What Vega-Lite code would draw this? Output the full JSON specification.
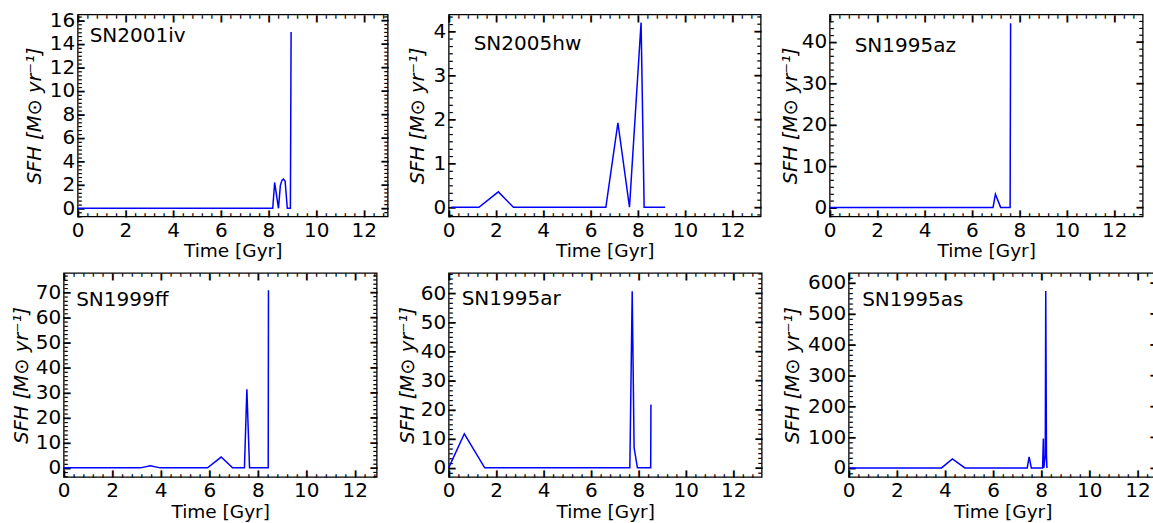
{
  "$schema": "https://vega.github.io/schema/vega-lite/v6.json",
  "background": "white",
  "padding": {"left": 8.5, "top": 9.5, "right": 0, "bottom": 0},
  "center": true,
  "spacing": 9.4,
  "datasets": {
    "sfh": [
      {"sn": "SN2001iv", "t": 0, "v": 0},
      {"sn": "SN2001iv", "t": 8.18, "v": 0},
      {"sn": "SN2001iv", "t": 8.26, "v": 2.2},
      {"sn": "SN2001iv", "t": 8.42, "v": 0},
      {"sn": "SN2001iv", "t": 8.5, "v": 1.95},
      {"sn": "SN2001iv", "t": 8.57, "v": 2.4},
      {"sn": "SN2001iv", "t": 8.63, "v": 2.49},
      {"sn": "SN2001iv", "t": 8.7, "v": 2.3},
      {"sn": "SN2001iv", "t": 8.79, "v": 0},
      {"sn": "SN2001iv", "t": 8.92, "v": 0},
      {"sn": "SN2001iv", "t": 8.95, "v": 15.0},

      {"sn": "SN2005hw", "t": 0.11, "v": 0},
      {"sn": "SN2005hw", "t": 1.28, "v": 0},
      {"sn": "SN2005hw", "t": 2.1, "v": 0.35},
      {"sn": "SN2005hw", "t": 2.74, "v": 0},
      {"sn": "SN2005hw", "t": 6.65, "v": 0},
      {"sn": "SN2005hw", "t": 7.16, "v": 1.92},
      {"sn": "SN2005hw", "t": 7.65, "v": 0},
      {"sn": "SN2005hw", "t": 8.14, "v": 4.2},
      {"sn": "SN2005hw", "t": 8.27, "v": 0},
      {"sn": "SN2005hw", "t": 9.16, "v": 0},

      {"sn": "SN1995az", "t": 0, "v": 0},
      {"sn": "SN1995az", "t": 6.89, "v": 0},
      {"sn": "SN1995az", "t": 6.99, "v": 3.2},
      {"sn": "SN1995az", "t": 7.21, "v": 0},
      {"sn": "SN1995az", "t": 7.61, "v": 0},
      {"sn": "SN1995az", "t": 7.63, "v": 44.5},

      {"sn": "SN1999ff", "t": 0, "v": 0},
      {"sn": "SN1999ff", "t": 3.16, "v": 0},
      {"sn": "SN1999ff", "t": 3.57, "v": 0.8},
      {"sn": "SN1999ff", "t": 3.98, "v": 0},
      {"sn": "SN1999ff", "t": 5.93, "v": 0},
      {"sn": "SN1999ff", "t": 6.49, "v": 4.3},
      {"sn": "SN1999ff", "t": 6.96, "v": 0},
      {"sn": "SN1999ff", "t": 7.45, "v": 0},
      {"sn": "SN1999ff", "t": 7.55, "v": 31.3},
      {"sn": "SN1999ff", "t": 7.66, "v": 0},
      {"sn": "SN1999ff", "t": 8.43, "v": 0},
      {"sn": "SN1999ff", "t": 8.44, "v": 70.8},

      {"sn": "SN1995ar", "t": 0, "v": 0},
      {"sn": "SN1995ar", "t": 0.66, "v": 11.7},
      {"sn": "SN1995ar", "t": 1.52, "v": 0},
      {"sn": "SN1995ar", "t": 7.64, "v": 0},
      {"sn": "SN1995ar", "t": 7.74, "v": 60.6},
      {"sn": "SN1995ar", "t": 7.82, "v": 6.9},
      {"sn": "SN1995ar", "t": 7.96, "v": 0},
      {"sn": "SN1995ar", "t": 8.52, "v": 0},
      {"sn": "SN1995ar", "t": 8.53, "v": 21.7},

      {"sn": "SN1995as", "t": 0, "v": 0},
      {"sn": "SN1995as", "t": 3.86, "v": 0},
      {"sn": "SN1995as", "t": 4.31, "v": 29},
      {"sn": "SN1995as", "t": 4.83, "v": 0},
      {"sn": "SN1995as", "t": 7.42, "v": 0},
      {"sn": "SN1995as", "t": 7.5, "v": 36},
      {"sn": "SN1995as", "t": 7.59, "v": 0},
      {"sn": "SN1995as", "t": 8.06, "v": 0},
      {"sn": "SN1995as", "t": 8.09, "v": 95},
      {"sn": "SN1995as", "t": 8.11, "v": 0},
      {"sn": "SN1995as", "t": 8.17, "v": 40},
      {"sn": "SN1995as", "t": 8.19, "v": 573},
      {"sn": "SN1995as", "t": 8.22, "v": 40},
      {"sn": "SN1995as", "t": 8.24, "v": 0}
    ]
  },
  "config": {
    "view": {"stroke": "black", "strokeWidth": 1.3},
    "axis": {
      "domain": false,
      "ticks": false,
      "grid": false,
      "minExtent": 0,
      "labelFont": "DejaVu Sans",
      "labelFontSize": 20,
      "labelColor": "black",
      "labelFlush": false,
      "labelOverlap": false,
      "titleFont": "DejaVu Sans",
      "titleFontWeight": "normal",
      "titleColor": "black"
    },
    "axisLeft": {"labelPadding": 3, "titleFontSize": 19.5, "titleFontStyle": "italic"},
    "axisBottom": {"labelPadding": 4, "titlePadding": 1.1, "titleFontSize": 18.5},
    "title": {
      "font": "DejaVu Sans",
      "fontSize": 20,
      "fontWeight": "normal",
      "color": "black",
      "anchor": "start",
      "frame": "group",
      "baseline": "alphabetic"
    },
    "line": {"color": "#0000ff", "strokeWidth": 1.5}
  },
  "vconcat": [
    {
      "spacing": 17,
      "hconcat": [
        {
          "width": 310, "height": 202,
          "title": {"text": "SN2001iv", "offset": -35.5, "dx": 12},
          "data": {"name": "sfh"},
          "transform": [{"filter": "datum.sn === 'SN2001iv'"}],
          "resolve": {"axis": {"x": "independent", "y": "independent"}},
          "layer": [
            {"mark": "line", "encoding": {
              "x": {"field": "t", "type": "quantitative", "scale": {"domain": [0, 13.0], "nice": false, "zero": false},
                    "axis": {"orient": "bottom", "title": "Time [Gyr]", "values": [0, 2, 4, 6, 8, 10, 12]}},
              "y": {"field": "v", "type": "quantitative", "scale": {"domain": [-0.7, 16.5], "nice": false, "zero": false},
                    "axis": {"orient": "left", "title": "SFH [M⊙ yr⁻¹]", "values": [0, 2, 4, 6, 8, 10, 12, 14, 16], "minExtent": 68.5, "titlePadding": -35}}}},
            {"mark": {"type": "line", "strokeOpacity": 0}, "encoding": {
              "x": {"field": "t", "type": "quantitative", "axis": {"orient": "bottom", "title": null, "labelExpr": "'▍'", "labelFontSize": 6, "labelPadding": 0, "labelBaseline": "bottom", "labelAlign": "left", "labelOffset": -0.7, "values": [0, 2, 4, 6, 8, 10, 12]}},
              "y": {"field": "v", "type": "quantitative", "axis": {"orient": "left", "title": null, "labelExpr": "'▍'", "labelFontSize": 6, "labelPadding": 0, "labelBaseline": "bottom", "labelAlign": "left", "labelAngle": 90, "labelOffset": -0.68, "values": [0, 2, 4, 6, 8, 10, 12, 14, 16]}}}},
            {"mark": {"type": "line", "strokeOpacity": 0}, "encoding": {
              "x": {"field": "t", "type": "quantitative", "axis": {"orient": "bottom", "title": null, "labelExpr": "'▌'", "labelFontSize": 3, "labelPadding": 0, "labelBaseline": "bottom", "labelAlign": "left", "labelOffset": -0.45, "values": [0.4, 0.8, 1.2, 1.6, 2.4, 2.8, 3.2, 3.6, 4.4, 4.8, 5.2, 5.6, 6.4, 6.8, 7.2, 7.6, 8.4, 8.8, 9.2, 9.6, 10.4, 10.8, 11.2, 11.6, 12.4, 12.8]}},
              "y": {"field": "v", "type": "quantitative", "axis": {"orient": "left", "title": null, "labelExpr": "'▌'", "labelFontSize": 3, "labelPadding": 0, "labelBaseline": "bottom", "labelAlign": "left", "labelAngle": 90, "labelOffset": -0.45, "values": [-0.667, -0.333, 0.333, 0.667, 1, 1.333, 1.667, 2.333, 2.667, 3, 3.333, 3.667, 4.333, 4.667, 5, 5.333, 5.667, 6.333, 6.667, 7, 7.333, 7.667, 8.333, 8.667, 9, 9.333, 9.667, 10.333, 10.667, 11, 11.333, 11.667, 12.333, 12.667, 13, 13.333, 13.667, 14.333, 14.667, 15, 15.333, 15.667, 16.333]}}}},
            {"mark": {"type": "line", "strokeOpacity": 0}, "encoding": {
              "x": {"field": "t", "type": "quantitative", "axis": {"orient": "top", "title": null, "labelExpr": "'▍'", "labelFontSize": 6, "labelPadding": -0.57, "labelBaseline": "top", "labelAlign": "left", "labelOffset": -0.7, "values": [0, 2, 4, 6, 8, 10, 12]}},
              "y": {"field": "v", "type": "quantitative", "axis": {"orient": "right", "title": null, "labelExpr": "'▍'", "labelFontSize": 6, "labelPadding": -0.4, "labelBaseline": "bottom", "labelAlign": "left", "labelAngle": -90, "labelOffset": 0.68, "values": [0, 2, 4, 6, 8, 10, 12, 14, 16]}}}},
            {"mark": {"type": "line", "strokeOpacity": 0}, "encoding": {
              "x": {"field": "t", "type": "quantitative", "axis": {"orient": "top", "title": null, "labelExpr": "'▌'", "labelFontSize": 3, "labelPadding": -0.78, "labelBaseline": "top", "labelAlign": "left", "labelOffset": -0.45, "values": [0.4, 0.8, 1.2, 1.6, 2.4, 2.8, 3.2, 3.6, 4.4, 4.8, 5.2, 5.6, 6.4, 6.8, 7.2, 7.6, 8.4, 8.8, 9.2, 9.6, 10.4, 10.8, 11.2, 11.6, 12.4, 12.8]}},
              "y": {"field": "v", "type": "quantitative", "axis": {"orient": "right", "title": null, "labelExpr": "'▌'", "labelFontSize": 3, "labelPadding": 0, "labelBaseline": "bottom", "labelAlign": "left", "labelAngle": -90, "labelOffset": 0.45, "values": [-0.667, -0.333, 0.333, 0.667, 1, 1.333, 1.667, 2.333, 2.667, 3, 3.333, 3.667, 4.333, 4.667, 5, 5.333, 5.667, 6.333, 6.667, 7, 7.333, 7.667, 8.333, 8.667, 9, 9.333, 9.667, 10.333, 10.667, 11, 11.333, 11.667, 12.333, 12.667, 13, 13.333, 13.667, 14.333, 14.667, 15, 15.333, 15.667, 16.333]}}}}
          ]
        },
        {
          "width": 312, "height": 202,
          "title": {"text": "SN2005hw", "offset": -39.5, "dx": 25},
          "data": {"name": "sfh"},
          "transform": [{"filter": "datum.sn === 'SN2005hw'"}],
          "resolve": {"axis": {"x": "independent", "y": "independent"}},
          "layer": [
            {"mark": "line", "encoding": {
              "x": {"field": "t", "type": "quantitative", "scale": {"domain": [0, 13.2], "nice": false, "zero": false},
                    "axis": {"orient": "bottom", "title": "Time [Gyr]", "values": [0, 2, 4, 6, 8, 10, 12]}},
              "y": {"field": "v", "type": "quantitative", "scale": {"domain": [-0.21, 4.38], "nice": false, "zero": false},
                    "axis": {"orient": "left", "title": "SFH [M⊙ yr⁻¹]", "values": [0, 1, 2, 3, 4], "titlePadding": 5.8}}}},
            {"mark": {"type": "line", "strokeOpacity": 0}, "encoding": {
              "x": {"field": "t", "type": "quantitative", "axis": {"orient": "bottom", "title": null, "labelExpr": "'▍'", "labelFontSize": 6, "labelPadding": 0, "labelBaseline": "bottom", "labelAlign": "left", "labelOffset": -0.7, "values": [0, 2, 4, 6, 8, 10, 12]}},
              "y": {"field": "v", "type": "quantitative", "axis": {"orient": "left", "title": null, "labelExpr": "'▍'", "labelFontSize": 6, "labelPadding": 0, "labelBaseline": "bottom", "labelAlign": "left", "labelAngle": 90, "labelOffset": -0.68, "values": [0, 1, 2, 3, 4]}}}},
            {"mark": {"type": "line", "strokeOpacity": 0}, "encoding": {
              "x": {"field": "t", "type": "quantitative", "axis": {"orient": "bottom", "title": null, "labelExpr": "'▌'", "labelFontSize": 3, "labelPadding": 0, "labelBaseline": "bottom", "labelAlign": "left", "labelOffset": -0.45, "values": [0.4, 0.8, 1.2, 1.6, 2.4, 2.8, 3.2, 3.6, 4.4, 4.8, 5.2, 5.6, 6.4, 6.8, 7.2, 7.6, 8.4, 8.8, 9.2, 9.6, 10.4, 10.8, 11.2, 11.6, 12.4, 12.8]}},
              "y": {"field": "v", "type": "quantitative", "axis": {"orient": "left", "title": null, "labelExpr": "'▌'", "labelFontSize": 3, "labelPadding": 0, "labelBaseline": "bottom", "labelAlign": "left", "labelAngle": 90, "labelOffset": -0.45, "values": [-0.167, 0.167, 0.333, 0.5, 0.667, 0.833, 1.167, 1.333, 1.5, 1.667, 1.833, 2.167, 2.333, 2.5, 2.667, 2.833, 3.167, 3.333, 3.5, 3.667, 3.833, 4.167, 4.333]}}}},
            {"mark": {"type": "line", "strokeOpacity": 0}, "encoding": {
              "x": {"field": "t", "type": "quantitative", "axis": {"orient": "top", "title": null, "labelExpr": "'▍'", "labelFontSize": 6, "labelPadding": -0.57, "labelBaseline": "top", "labelAlign": "left", "labelOffset": -0.7, "values": [0, 2, 4, 6, 8, 10, 12]}},
              "y": {"field": "v", "type": "quantitative", "axis": {"orient": "right", "title": null, "labelExpr": "'▍'", "labelFontSize": 6, "labelPadding": -0.4, "labelBaseline": "bottom", "labelAlign": "left", "labelAngle": -90, "labelOffset": 0.68, "values": [0, 1, 2, 3, 4]}}}},
            {"mark": {"type": "line", "strokeOpacity": 0}, "encoding": {
              "x": {"field": "t", "type": "quantitative", "axis": {"orient": "top", "title": null, "labelExpr": "'▌'", "labelFontSize": 3, "labelPadding": -0.78, "labelBaseline": "top", "labelAlign": "left", "labelOffset": -0.45, "values": [0.4, 0.8, 1.2, 1.6, 2.4, 2.8, 3.2, 3.6, 4.4, 4.8, 5.2, 5.6, 6.4, 6.8, 7.2, 7.6, 8.4, 8.8, 9.2, 9.6, 10.4, 10.8, 11.2, 11.6, 12.4, 12.8]}},
              "y": {"field": "v", "type": "quantitative", "axis": {"orient": "right", "title": null, "labelExpr": "'▌'", "labelFontSize": 3, "labelPadding": 0, "labelBaseline": "bottom", "labelAlign": "left", "labelAngle": -90, "labelOffset": 0.45, "values": [-0.167, 0.167, 0.333, 0.5, 0.667, 0.833, 1.167, 1.333, 1.5, 1.667, 1.833, 2.167, 2.333, 2.5, 2.667, 2.833, 3.167, 3.333, 3.5, 3.667, 3.833, 4.167, 4.333]}}}}
          ]
        },
        {
          "width": 313, "height": 202,
          "title": {"text": "SN1995az", "offset": -41.5, "dx": 25},
          "data": {"name": "sfh"},
          "transform": [{"filter": "datum.sn === 'SN1995az'"}],
          "resolve": {"axis": {"x": "independent", "y": "independent"}},
          "layer": [
            {"mark": "line", "encoding": {
              "x": {"field": "t", "type": "quantitative", "scale": {"domain": [0, 13.2], "nice": false, "zero": false},
                    "axis": {"orient": "bottom", "title": "Time [Gyr]", "values": [0, 2, 4, 6, 8, 10, 12]}},
              "y": {"field": "v", "type": "quantitative", "scale": {"domain": [-2.2, 46.6], "nice": false, "zero": false},
                    "axis": {"orient": "left", "title": "SFH [M⊙ yr⁻¹]", "values": [0, 10, 20, 30, 40], "titlePadding": 1.1}}}},
            {"mark": {"type": "line", "strokeOpacity": 0}, "encoding": {
              "x": {"field": "t", "type": "quantitative", "axis": {"orient": "bottom", "title": null, "labelExpr": "'▍'", "labelFontSize": 6, "labelPadding": 0, "labelBaseline": "bottom", "labelAlign": "left", "labelOffset": -0.7, "values": [0, 2, 4, 6, 8, 10, 12]}},
              "y": {"field": "v", "type": "quantitative", "axis": {"orient": "left", "title": null, "labelExpr": "'▍'", "labelFontSize": 6, "labelPadding": 0, "labelBaseline": "bottom", "labelAlign": "left", "labelAngle": 90, "labelOffset": -0.68, "values": [0, 10, 20, 30, 40]}}}},
            {"mark": {"type": "line", "strokeOpacity": 0}, "encoding": {
              "x": {"field": "t", "type": "quantitative", "axis": {"orient": "bottom", "title": null, "labelExpr": "'▌'", "labelFontSize": 3, "labelPadding": 0, "labelBaseline": "bottom", "labelAlign": "left", "labelOffset": -0.45, "values": [0.4, 0.8, 1.2, 1.6, 2.4, 2.8, 3.2, 3.6, 4.4, 4.8, 5.2, 5.6, 6.4, 6.8, 7.2, 7.6, 8.4, 8.8, 9.2, 9.6, 10.4, 10.8, 11.2, 11.6, 12.4, 12.8]}},
              "y": {"field": "v", "type": "quantitative", "axis": {"orient": "left", "title": null, "labelExpr": "'▌'", "labelFontSize": 3, "labelPadding": 0, "labelBaseline": "bottom", "labelAlign": "left", "labelAngle": 90, "labelOffset": -0.45, "values": [-1.667, 1.667, 3.333, 5, 6.667, 8.333, 11.667, 13.333, 15, 16.667, 18.333, 21.667, 23.333, 25, 26.667, 28.333, 31.667, 33.333, 35, 36.667, 38.333, 41.667, 43.333, 45]}}}},
            {"mark": {"type": "line", "strokeOpacity": 0}, "encoding": {
              "x": {"field": "t", "type": "quantitative", "axis": {"orient": "top", "title": null, "labelExpr": "'▍'", "labelFontSize": 6, "labelPadding": -0.57, "labelBaseline": "top", "labelAlign": "left", "labelOffset": -0.7, "values": [0, 2, 4, 6, 8, 10, 12]}},
              "y": {"field": "v", "type": "quantitative", "axis": {"orient": "right", "title": null, "labelExpr": "'▍'", "labelFontSize": 6, "labelPadding": -0.4, "labelBaseline": "bottom", "labelAlign": "left", "labelAngle": -90, "labelOffset": 0.68, "values": [0, 10, 20, 30, 40]}}}},
            {"mark": {"type": "line", "strokeOpacity": 0}, "encoding": {
              "x": {"field": "t", "type": "quantitative", "axis": {"orient": "top", "title": null, "labelExpr": "'▌'", "labelFontSize": 3, "labelPadding": -0.78, "labelBaseline": "top", "labelAlign": "left", "labelOffset": -0.45, "values": [0.4, 0.8, 1.2, 1.6, 2.4, 2.8, 3.2, 3.6, 4.4, 4.8, 5.2, 5.6, 6.4, 6.8, 7.2, 7.6, 8.4, 8.8, 9.2, 9.6, 10.4, 10.8, 11.2, 11.6, 12.4, 12.8]}},
              "y": {"field": "v", "type": "quantitative", "axis": {"orient": "right", "title": null, "labelExpr": "'▌'", "labelFontSize": 3, "labelPadding": 0, "labelBaseline": "bottom", "labelAlign": "left", "labelAngle": -90, "labelOffset": 0.45, "values": [-1.667, 1.667, 3.333, 5, 6.667, 8.333, 11.667, 13.333, 15, 16.667, 18.333, 21.667, 23.333, 25, 26.667, 28.333, 31.667, 33.333, 35, 36.667, 38.333, 41.667, 43.333, 45]}}}}
          ]
        }
      ]
    },
    {
      "spacing": 18,
      "hconcat": [
        {
          "width": 313, "height": 204,
          "title": {"text": "SN1999ff", "offset": -37, "dx": 12.5},
          "data": {"name": "sfh"},
          "transform": [{"filter": "datum.sn === 'SN1999ff'"}],
          "resolve": {"axis": {"x": "independent", "y": "independent"}},
          "layer": [
            {"mark": "line", "encoding": {
              "x": {"field": "t", "type": "quantitative", "scale": {"domain": [0, 12.9], "nice": false, "zero": false},
                    "axis": {"orient": "bottom", "title": "Time [Gyr]", "values": [0, 2, 4, 6, 8, 10, 12]}},
              "y": {"field": "v", "type": "quantitative", "scale": {"domain": [-3.6, 77.7], "nice": false, "zero": false},
                    "axis": {"orient": "left", "title": "SFH [M⊙ yr⁻¹]", "values": [0, 10, 20, 30, 40, 50, 60, 70], "titlePadding": 4.1}}}},
            {"mark": {"type": "line", "strokeOpacity": 0}, "encoding": {
              "x": {"field": "t", "type": "quantitative", "axis": {"orient": "bottom", "title": null, "labelExpr": "'▍'", "labelFontSize": 6, "labelPadding": 0, "labelBaseline": "bottom", "labelAlign": "left", "labelOffset": -0.7, "values": [0, 2, 4, 6, 8, 10, 12]}},
              "y": {"field": "v", "type": "quantitative", "axis": {"orient": "left", "title": null, "labelExpr": "'▍'", "labelFontSize": 6, "labelPadding": 0, "labelBaseline": "bottom", "labelAlign": "left", "labelAngle": 90, "labelOffset": -0.68, "values": [0, 10, 20, 30, 40, 50, 60, 70]}}}},
            {"mark": {"type": "line", "strokeOpacity": 0}, "encoding": {
              "x": {"field": "t", "type": "quantitative", "axis": {"orient": "bottom", "title": null, "labelExpr": "'▌'", "labelFontSize": 3, "labelPadding": 0, "labelBaseline": "bottom", "labelAlign": "left", "labelOffset": -0.45, "values": [0.4, 0.8, 1.2, 1.6, 2.4, 2.8, 3.2, 3.6, 4.4, 4.8, 5.2, 5.6, 6.4, 6.8, 7.2, 7.6, 8.4, 8.8, 9.2, 9.6, 10.4, 10.8, 11.2, 11.6, 12.4, 12.8]}},
              "y": {"field": "v", "type": "quantitative", "axis": {"orient": "left", "title": null, "labelExpr": "'▌'", "labelFontSize": 3, "labelPadding": 0, "labelBaseline": "bottom", "labelAlign": "left", "labelAngle": 90, "labelOffset": -0.45, "values": [-3.333, -1.667, 1.667, 3.333, 5, 6.667, 8.333, 11.667, 13.333, 15, 16.667, 18.333, 21.667, 23.333, 25, 26.667, 28.333, 31.667, 33.333, 35, 36.667, 38.333, 41.667, 43.333, 45, 46.667, 48.333, 51.667, 53.333, 55, 56.667, 58.333, 61.667, 63.333, 65, 66.667, 68.333, 71.667, 73.333, 75, 76.667]}}}},
            {"mark": {"type": "line", "strokeOpacity": 0}, "encoding": {
              "x": {"field": "t", "type": "quantitative", "axis": {"orient": "top", "title": null, "labelExpr": "'▍'", "labelFontSize": 6, "labelPadding": -0.57, "labelBaseline": "top", "labelAlign": "left", "labelOffset": -0.7, "values": [0, 2, 4, 6, 8, 10, 12]}},
              "y": {"field": "v", "type": "quantitative", "axis": {"orient": "right", "title": null, "labelExpr": "'▍'", "labelFontSize": 6, "labelPadding": -0.4, "labelBaseline": "bottom", "labelAlign": "left", "labelAngle": -90, "labelOffset": 0.68, "values": [0, 10, 20, 30, 40, 50, 60, 70]}}}},
            {"mark": {"type": "line", "strokeOpacity": 0}, "encoding": {
              "x": {"field": "t", "type": "quantitative", "axis": {"orient": "top", "title": null, "labelExpr": "'▌'", "labelFontSize": 3, "labelPadding": -0.78, "labelBaseline": "top", "labelAlign": "left", "labelOffset": -0.45, "values": [0.4, 0.8, 1.2, 1.6, 2.4, 2.8, 3.2, 3.6, 4.4, 4.8, 5.2, 5.6, 6.4, 6.8, 7.2, 7.6, 8.4, 8.8, 9.2, 9.6, 10.4, 10.8, 11.2, 11.6, 12.4, 12.8]}},
              "y": {"field": "v", "type": "quantitative", "axis": {"orient": "right", "title": null, "labelExpr": "'▌'", "labelFontSize": 3, "labelPadding": 0, "labelBaseline": "bottom", "labelAlign": "left", "labelAngle": -90, "labelOffset": 0.45, "values": [-3.333, -1.667, 1.667, 3.333, 5, 6.667, 8.333, 11.667, 13.333, 15, 16.667, 18.333, 21.667, 23.333, 25, 26.667, 28.333, 31.667, 33.333, 35, 36.667, 38.333, 41.667, 43.333, 45, 46.667, 48.333, 51.667, 53.333, 55, 56.667, 58.333, 61.667, 63.333, 65, 66.667, 68.333, 71.667, 73.333, 75, 76.667]}}}}
          ]
        },
        {
          "width": 313, "height": 204,
          "title": {"text": "SN1995ar", "offset": -37.5, "dx": 13},
          "data": {"name": "sfh"},
          "transform": [{"filter": "datum.sn === 'SN1995ar'"}],
          "resolve": {"axis": {"x": "independent", "y": "independent"}},
          "layer": [
            {"mark": "line", "encoding": {
              "x": {"field": "t", "type": "quantitative", "scale": {"domain": [0, 13.2], "nice": false, "zero": false},
                    "axis": {"orient": "bottom", "title": "Time [Gyr]", "values": [0, 2, 4, 6, 8, 10, 12]}},
              "y": {"field": "v", "type": "quantitative", "scale": {"domain": [-3.1, 66.9], "nice": false, "zero": false},
                    "axis": {"orient": "left", "title": "SFH [M⊙ yr⁻¹]", "values": [0, 10, 20, 30, 40, 50, 60], "titlePadding": 3.1}}}},
            {"mark": {"type": "line", "strokeOpacity": 0}, "encoding": {
              "x": {"field": "t", "type": "quantitative", "axis": {"orient": "bottom", "title": null, "labelExpr": "'▍'", "labelFontSize": 6, "labelPadding": 0, "labelBaseline": "bottom", "labelAlign": "left", "labelOffset": -0.7, "values": [0, 2, 4, 6, 8, 10, 12]}},
              "y": {"field": "v", "type": "quantitative", "axis": {"orient": "left", "title": null, "labelExpr": "'▍'", "labelFontSize": 6, "labelPadding": 0, "labelBaseline": "bottom", "labelAlign": "left", "labelAngle": 90, "labelOffset": -0.68, "values": [0, 10, 20, 30, 40, 50, 60]}}}},
            {"mark": {"type": "line", "strokeOpacity": 0}, "encoding": {
              "x": {"field": "t", "type": "quantitative", "axis": {"orient": "bottom", "title": null, "labelExpr": "'▌'", "labelFontSize": 3, "labelPadding": 0, "labelBaseline": "bottom", "labelAlign": "left", "labelOffset": -0.45, "values": [0.4, 0.8, 1.2, 1.6, 2.4, 2.8, 3.2, 3.6, 4.4, 4.8, 5.2, 5.6, 6.4, 6.8, 7.2, 7.6, 8.4, 8.8, 9.2, 9.6, 10.4, 10.8, 11.2, 11.6, 12.4, 12.8]}},
              "y": {"field": "v", "type": "quantitative", "axis": {"orient": "left", "title": null, "labelExpr": "'▌'", "labelFontSize": 3, "labelPadding": 0, "labelBaseline": "bottom", "labelAlign": "left", "labelAngle": 90, "labelOffset": -0.45, "values": [-1.667, 1.667, 3.333, 5, 6.667, 8.333, 11.667, 13.333, 15, 16.667, 18.333, 21.667, 23.333, 25, 26.667, 28.333, 31.667, 33.333, 35, 36.667, 38.333, 41.667, 43.333, 45, 46.667, 48.333, 51.667, 53.333, 55, 56.667, 58.333, 61.667, 63.333, 65, 66.667]}}}},
            {"mark": {"type": "line", "strokeOpacity": 0}, "encoding": {
              "x": {"field": "t", "type": "quantitative", "axis": {"orient": "top", "title": null, "labelExpr": "'▍'", "labelFontSize": 6, "labelPadding": -0.57, "labelBaseline": "top", "labelAlign": "left", "labelOffset": -0.7, "values": [0, 2, 4, 6, 8, 10, 12]}},
              "y": {"field": "v", "type": "quantitative", "axis": {"orient": "right", "title": null, "labelExpr": "'▍'", "labelFontSize": 6, "labelPadding": -0.4, "labelBaseline": "bottom", "labelAlign": "left", "labelAngle": -90, "labelOffset": 0.68, "values": [0, 10, 20, 30, 40, 50, 60]}}}},
            {"mark": {"type": "line", "strokeOpacity": 0}, "encoding": {
              "x": {"field": "t", "type": "quantitative", "axis": {"orient": "top", "title": null, "labelExpr": "'▌'", "labelFontSize": 3, "labelPadding": -0.78, "labelBaseline": "top", "labelAlign": "left", "labelOffset": -0.45, "values": [0.4, 0.8, 1.2, 1.6, 2.4, 2.8, 3.2, 3.6, 4.4, 4.8, 5.2, 5.6, 6.4, 6.8, 7.2, 7.6, 8.4, 8.8, 9.2, 9.6, 10.4, 10.8, 11.2, 11.6, 12.4, 12.8]}},
              "y": {"field": "v", "type": "quantitative", "axis": {"orient": "right", "title": null, "labelExpr": "'▌'", "labelFontSize": 3, "labelPadding": 0, "labelBaseline": "bottom", "labelAlign": "left", "labelAngle": -90, "labelOffset": 0.45, "values": [-1.667, 1.667, 3.333, 5, 6.667, 8.333, 11.667, 13.333, 15, 16.667, 18.333, 21.667, 23.333, 25, 26.667, 28.333, 31.667, 33.333, 35, 36.667, 38.333, 41.667, 43.333, 45, 46.667, 48.333, 51.667, 53.333, 55, 56.667, 58.333, 61.667, 63.333, 65, 66.667]}}}}
          ]
        },
        {
          "width": 308, "height": 204,
          "title": {"text": "SN1995as", "offset": -37, "dx": 13.5},
          "data": {"name": "sfh"},
          "transform": [{"filter": "datum.sn === 'SN1995as'"}],
          "resolve": {"axis": {"x": "independent", "y": "independent"}},
          "layer": [
            {"mark": "line", "encoding": {
              "x": {"field": "t", "type": "quantitative", "scale": {"domain": [0, 12.8], "nice": false, "zero": false},
                    "axis": {"orient": "bottom", "title": "Time [Gyr]", "values": [0, 2, 4, 6, 8, 10, 12]}},
              "y": {"field": "v", "type": "quantitative", "scale": {"domain": [-29, 632], "nice": false, "zero": false},
                    "axis": {"orient": "left", "title": "SFH [M⊙ yr⁻¹]", "values": [0, 100, 200, 300, 400, 500, 600], "titlePadding": 5.3}}}},
            {"mark": {"type": "line", "strokeOpacity": 0}, "encoding": {
              "x": {"field": "t", "type": "quantitative", "axis": {"orient": "bottom", "title": null, "labelExpr": "'▍'", "labelFontSize": 6, "labelPadding": 0, "labelBaseline": "bottom", "labelAlign": "left", "labelOffset": -0.7, "values": [0, 2, 4, 6, 8, 10, 12]}},
              "y": {"field": "v", "type": "quantitative", "axis": {"orient": "left", "title": null, "labelExpr": "'▍'", "labelFontSize": 6, "labelPadding": 0, "labelBaseline": "bottom", "labelAlign": "left", "labelAngle": 90, "labelOffset": -0.68, "values": [0, 100, 200, 300, 400, 500, 600]}}}},
            {"mark": {"type": "line", "strokeOpacity": 0}, "encoding": {
              "x": {"field": "t", "type": "quantitative", "axis": {"orient": "bottom", "title": null, "labelExpr": "'▌'", "labelFontSize": 3, "labelPadding": 0, "labelBaseline": "bottom", "labelAlign": "left", "labelOffset": -0.45, "values": [0.4, 0.8, 1.2, 1.6, 2.4, 2.8, 3.2, 3.6, 4.4, 4.8, 5.2, 5.6, 6.4, 6.8, 7.2, 7.6, 8.4, 8.8, 9.2, 9.6, 10.4, 10.8, 11.2, 11.6, 12.4]}},
              "y": {"field": "v", "type": "quantitative", "axis": {"orient": "left", "title": null, "labelExpr": "'▌'", "labelFontSize": 3, "labelPadding": 0, "labelBaseline": "bottom", "labelAlign": "left", "labelAngle": 90, "labelOffset": -0.45, "values": [-16.667, 16.667, 33.333, 50, 66.667, 83.333, 116.667, 133.333, 150, 166.667, 183.333, 216.667, 233.333, 250, 266.667, 283.333, 316.667, 333.333, 350, 366.667, 383.333, 416.667, 433.333, 450, 466.667, 483.333, 516.667, 533.333, 550, 566.667, 583.333, 616.667]}}}},
            {"mark": {"type": "line", "strokeOpacity": 0}, "encoding": {
              "x": {"field": "t", "type": "quantitative", "axis": {"orient": "top", "title": null, "labelExpr": "'▍'", "labelFontSize": 6, "labelPadding": -0.57, "labelBaseline": "top", "labelAlign": "left", "labelOffset": -0.7, "values": [0, 2, 4, 6, 8, 10, 12]}},
              "y": {"field": "v", "type": "quantitative", "axis": {"orient": "right", "title": null, "labelExpr": "'▍'", "labelFontSize": 6, "labelPadding": -0.4, "labelBaseline": "bottom", "labelAlign": "left", "labelAngle": -90, "labelOffset": 0.68, "values": [0, 100, 200, 300, 400, 500, 600]}}}},
            {"mark": {"type": "line", "strokeOpacity": 0}, "encoding": {
              "x": {"field": "t", "type": "quantitative", "axis": {"orient": "top", "title": null, "labelExpr": "'▌'", "labelFontSize": 3, "labelPadding": -0.78, "labelBaseline": "top", "labelAlign": "left", "labelOffset": -0.45, "values": [0.4, 0.8, 1.2, 1.6, 2.4, 2.8, 3.2, 3.6, 4.4, 4.8, 5.2, 5.6, 6.4, 6.8, 7.2, 7.6, 8.4, 8.8, 9.2, 9.6, 10.4, 10.8, 11.2, 11.6, 12.4]}},
              "y": {"field": "v", "type": "quantitative", "axis": {"orient": "right", "title": null, "labelExpr": "'▌'", "labelFontSize": 3, "labelPadding": 0, "labelBaseline": "bottom", "labelAlign": "left", "labelAngle": -90, "labelOffset": 0.45, "values": [-16.667, 16.667, 33.333, 50, 66.667, 83.333, 116.667, 133.333, 150, 166.667, 183.333, 216.667, 233.333, 250, 266.667, 283.333, 316.667, 333.333, 350, 366.667, 383.333, 416.667, 433.333, 450, 466.667, 483.333, 516.667, 533.333, 550, 566.667, 583.333, 616.667]}}}}
          ]
        }
      ]
    }
  ]
}
